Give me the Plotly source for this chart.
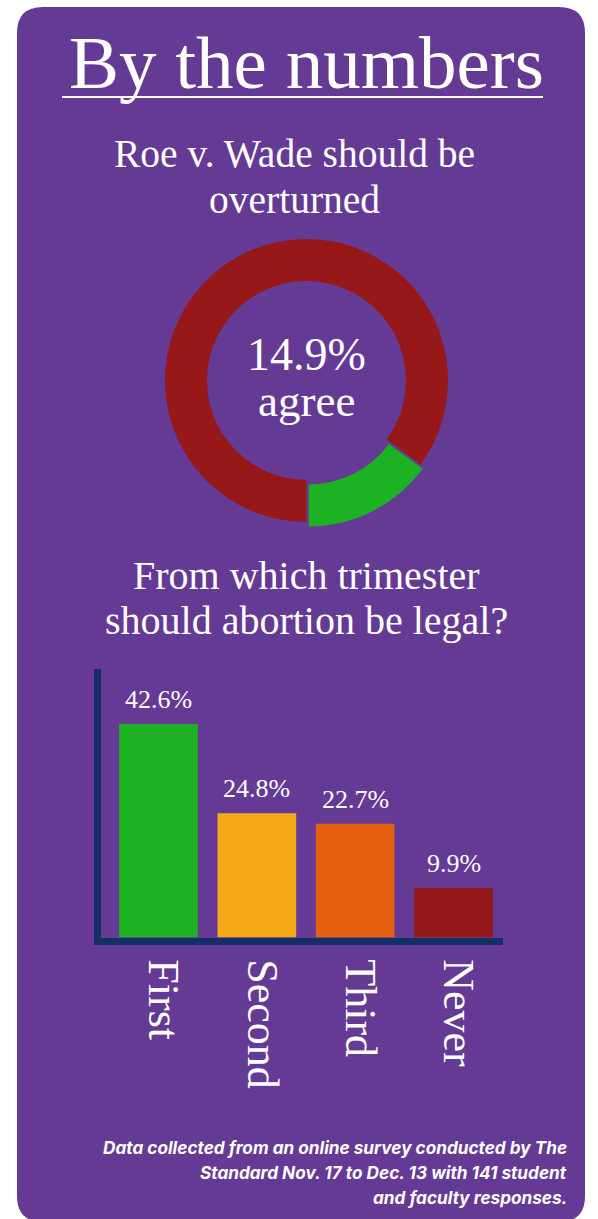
import plotly.graph_objects as go

W, H = 598, 1219

# ---- data ----
donut_labels = ["Disagree", "Agree"]
donut_values = [85.1, 14.9]
donut_colors = ["#961818", "#1DB223"]

bar_categories = ["First", "Second", "Third", "Never"]
bar_values = [42.6, 24.8, 22.7, 9.9]
bar_colors = ["#1DB223", "#F6A917", "#E55F10", "#95181A"]

footer_lines = [
    "Data collected from an online survey conducted by The",
    "Standard Nov. 17 to Dec. 13 with 141 student",
    "and faculty responses.",
]

PURPLE = "#653A95"
NAVY = "#132F66"
SERIF = "Liberation Serif"


def px_x(x):
    return x / W


def px_y(y):
    return 1 - y / H


fig = go.Figure()

# donut
fig.add_trace(go.Pie(
    labels=donut_labels, values=donut_values, hole=0.703, sort=False,
    direction="clockwise", rotation=180,
    marker=dict(colors=donut_colors, line=dict(width=0)),
    pull=[0, 0.035], textinfo="none", hoverinfo="label+percent",
    domain=dict(x=[px_x(160), px_x(453)], y=[px_y(527), px_y(234)]),
    showlegend=False,
))

# bars
fig.add_trace(go.Bar(
    x=bar_categories, y=bar_values, marker=dict(color=bar_colors, line=dict(width=0)),
    width=0.8, showlegend=False, xaxis="x", yaxis="y",
))

annotations = []
for c, v in zip(bar_categories, bar_values):
    annotations.append(dict(
        x=c, y=v, xref="x", yref="y", text=f"{v}%", showarrow=False,
        yanchor="bottom", yshift=8,
        font=dict(family=SERIF, size=26, color="white"),
    ))


def paper_text(text, x, y, size, family=SERIF, xanchor="center", **font_kw):
    annotations.append(dict(
        x=px_x(x), y=px_y(y), xref="paper", yref="paper", text=text, showarrow=False,
        xanchor=xanchor, yanchor="middle",
        font=dict(family=family, size=size, color="white", **font_kw),
    ))


paper_text("By the numbers", 306, 62.7, 75)
paper_text("Roe v. Wade should be", 294, 154, 39.5)
paper_text("overturned", 294, 200, 39.5)
paper_text("14.9%", 306.5, 354.5, 46)
paper_text("agree", 306.5, 401, 45)
paper_text("From which trimester", 306, 575, 40)
paper_text("should abortion be legal?", 306, 620, 40)
for i, line in enumerate(footer_lines):
    paper_text(line, 569, 1147 + 25 * i, 17.2, family="Inter", xanchor="right",
               weight="bold", style="italic")

# rounded purple background
x0, x1, y0, y1 = px_x(17), px_x(585), px_y(7), px_y(1222)
rx, ry = 26 / W, 26 / H
bg_path = (
    f"M {x0+rx},{y0} L {x1-rx},{y0} Q {x1},{y0} {x1},{y0-ry} "
    f"L {x1},{y1+ry} Q {x1},{y1} {x1-rx},{y1} "
    f"L {x0+rx},{y1} Q {x0},{y1} {x0},{y1+ry} "
    f"L {x0},{y0-ry} Q {x0},{y0} {x0+rx},{y0} Z"
)
shapes = [
    dict(type="path", path=bg_path, xref="paper", yref="paper",
         fillcolor=PURPLE, line=dict(width=0), layer="below"),
    dict(type="line", xref="paper", yref="paper",
         x0=px_x(62), x1=px_x(543), y0=px_y(97), y1=px_y(97),
         line=dict(color="white", width=2)),
]

fig.update_layout(
    width=W, height=H, margin=dict(l=0, r=0, t=0, b=0),
    paper_bgcolor="white", plot_bgcolor="rgba(0,0,0,0)",
    annotations=annotations, shapes=shapes,
    xaxis=dict(
        domain=[px_x(101), px_x(503)], range=[-0.585, 3.503],
        showline=True, linewidth=7, linecolor=NAVY, showgrid=False, zeroline=False,
        ticks="", tickangle=90, tickfont=dict(family=SERIF, size=44, color="white"),
        ticklabelshift=5, ticklabelstandoff=6,
        fixedrange=True,
    ),
    yaxis=dict(
        domain=[px_y(937.5), px_y(669)], range=[0, 53.6],
        showline=True, linewidth=7, linecolor=NAVY, showgrid=False, zeroline=False,
        showticklabels=False, ticks="", fixedrange=True,
    ),
    bargap=0.2,
)

fig.write_html("out.html")
